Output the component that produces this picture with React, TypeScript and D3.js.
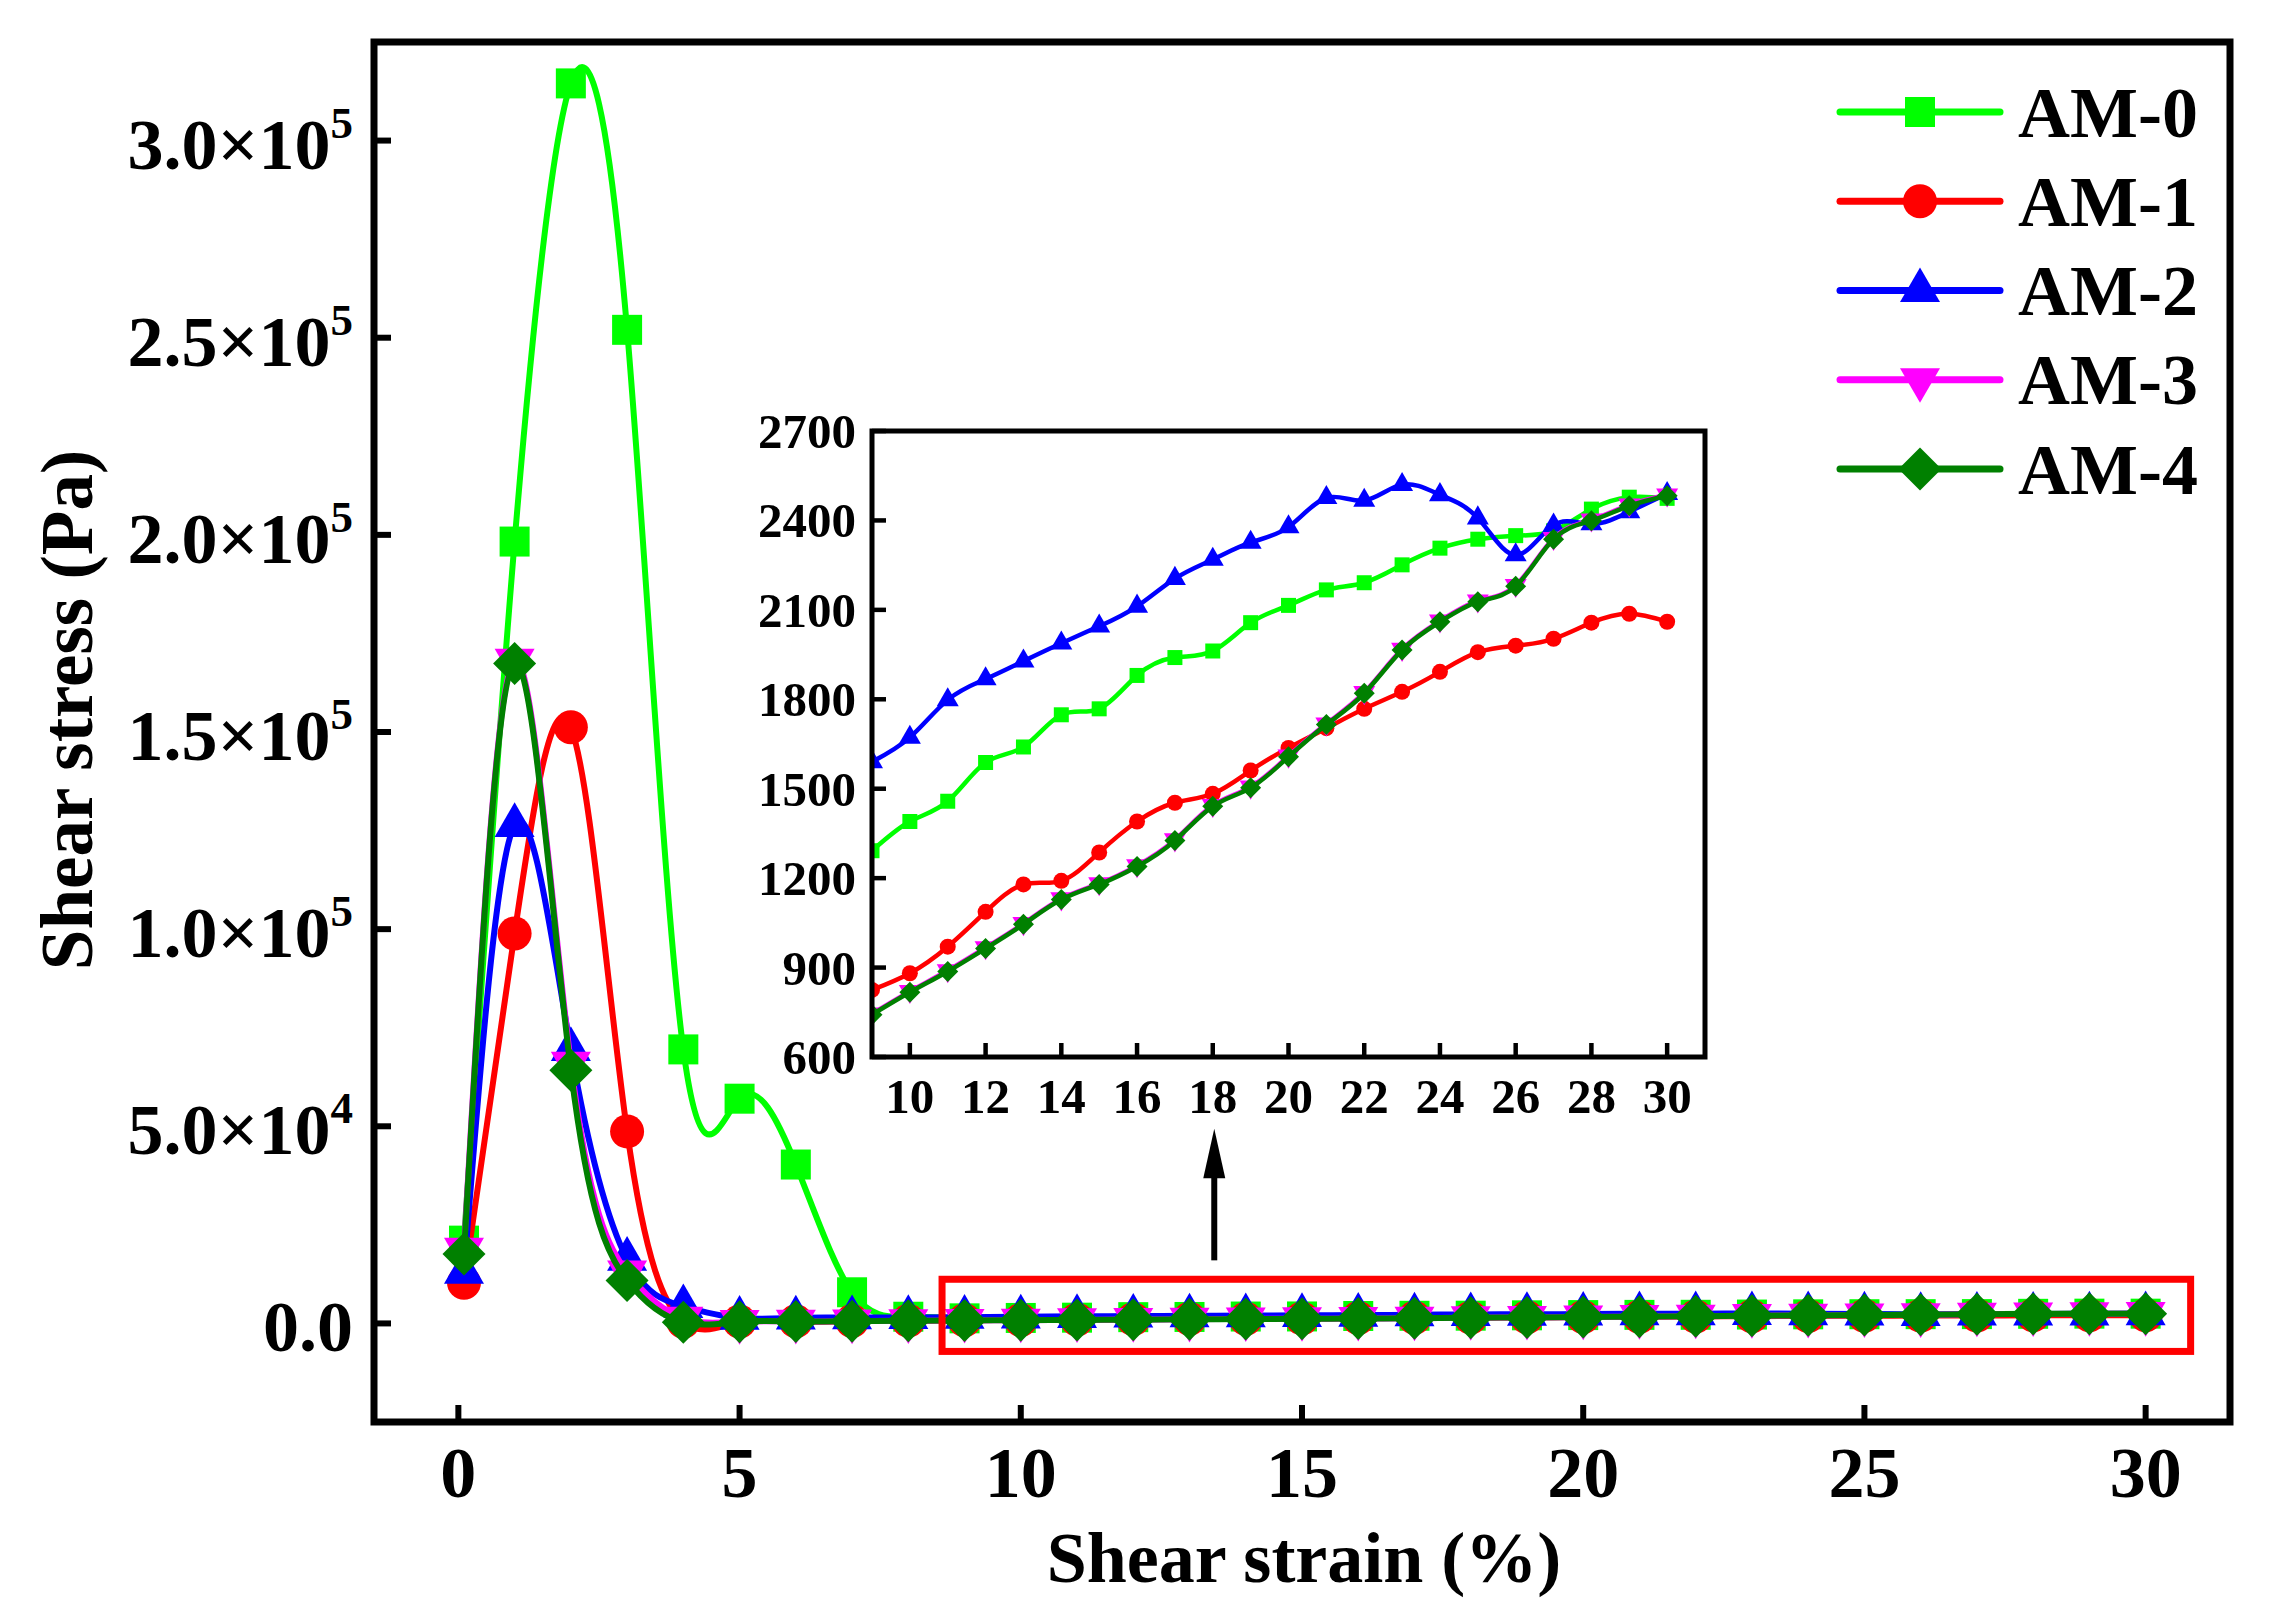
import * as d3 from "d3";

// shear strain (%) — first point is 0.1 %
const strain = [0.1, 1, 2, 3, 4, 5, 6, 7, 8, 9, 10, 11, 12, 13, 14, 15, 16, 17, 18, 19, 20, 21, 22, 23, 24, 25, 26, 27, 28, 29, 30];

// shear stress (Pa), one array per sample
const am0 = [21000, 198300, 314500, 252000, 69500, 57000, 40300, 7900, 1700, 1292, 1390, 1458, 1588, 1640, 1748, 1768, 1880, 1940, 1962, 2057, 2115, 2167, 2191, 2251, 2307, 2337, 2349, 2365, 2438, 2478, 2474];
const am1 = [10300, 98900, 151200, 48700, 400, 500, 550, 620, 700, 825, 881, 970, 1087, 1179, 1191, 1286, 1390, 1453, 1483, 1561, 1637, 1703, 1768, 1825, 1892, 1958, 1980, 2003, 2057, 2087, 2060];
const am2 = [13000, 126300, 69500, 16300, 4300, 1350, 1420, 1480, 1530, 1590, 1672, 1798, 1868, 1928, 1988, 2045, 2112, 2205, 2269, 2326, 2378, 2476, 2467, 2520, 2486, 2408, 2284, 2384, 2388, 2429, 2490];
const am3 = [18800, 168200, 66000, 13000, 1300, 450, 520, 580, 660, 745, 820, 890, 967, 1048, 1131, 1182, 1242, 1329, 1444, 1506, 1610, 1718, 1823, 1968, 2063, 2130, 2182, 2340, 2402, 2452, 2486];
const am4 = [17600, 167400, 64200, 10900, 300, 420, 500, 560, 650, 742, 817, 887, 964, 1045, 1128, 1179, 1239, 1326, 1441, 1503, 1607, 1715, 1820, 1965, 2060, 2127, 2179, 2337, 2399, 2449, 2483];

const seriesNames = ["AM-0", "AM-1", "AM-2", "AM-3", "AM-4"];
const seriesColors = ["#00ff00", "#ff0000", "#0000ff", "#ff00ff", "#008000"];
const seriesShapes = ["square", "circle", "triangle", "triangleDown", "diamond"];
const seriesValues = [am0, am1, am2, am3, am4];

// main axes ticks
const xTicks = [0, 5, 10, 15, 20, 25, 30];
const yTicks = [0, 50000, 100000, 150000, 200000, 250000, 300000];
const yTickMantissa = ["0.0", "5.0", "1.0", "1.5", "2.0", "2.5", "3.0"];
const yTickExp = ["", "4", "5", "5", "5", "5", "5"];

// inset ticks
const insetXTicks = [10, 12, 14, 16, 18, 20, 22, 24, 26, 28, 30];
const insetYTicks = [600, 900, 1200, 1500, 1800, 2100, 2400, 2700];

const W = 2269;
const H = 1621;
const FONT = "'Liberation Serif', 'Times New Roman', serif";

const mainSize: Record<string, number> = { square: 30, circle: 34, triangle: 40, triangleDown: 40, diamond: 43 };
const insetSize: Record<string, number> = { square: 15, circle: 16, triangle: 22, triangleDown: 22, diamond: 21 };

function markerPath(shape: string, s: number) {
  const r = s / 2;
  if (shape === "square") return `M${-r},${-r}h${s}v${s}h${-s}Z`;
  if (shape === "circle") return `M${-r},0a${r},${r} 0 1,0 ${s},0a${r},${r} 0 1,0 ${-s},0Z`;
  if (shape === "diamond") return `M0,${-r}L${r},0L0,${r}L${-r},0Z`;
  const h = s * 0.866;
  if (shape === "triangle") return `M0,${(-2 * h) / 3}L${r},${h / 3}L${-r},${h / 3}Z`;
  return `M0,${(2 * h) / 3}L${r},${-h / 3}L${-r},${-h / 3}Z`;
}

export default function App() {
  const x = d3.scaleLinear().domain([-1.5, 31.5]).range([374, 2230]);
  const y = d3.scaleLinear().domain([-25000, 325000]).range([1422, 42]);
  const xi = d3.scaleLinear().domain([9, 31]).range([872, 1705]);
  const yi = d3.scaleLinear().domain([600, 2700]).range([1057, 431]);

  const mainLine = d3.line<[number, number]>()
    .x(d => x(d[0]))
    .y(d => y(d[1]))
    .curve(d3.curveNatural);

  const insetLine = d3.line<[number, number]>()
    .x(d => xi(d[0]))
    .y(d => yi(d[1]))
    .curve(d3.curveNatural);

  const series = seriesNames.map((name, i) => ({
    name,
    color: seriesColors[i],
    shape: seriesShapes[i],
    pts: strain.map((s, j) => [s, seriesValues[i][j]] as [number, number]),
  }));

  const [x0, x1] = x.range();
  const [y0, y1] = y.range();
  const [ix0, ix1] = xi.range();
  const [iy0, iy1] = yi.range();

  // legend rows
  const legY = d3.scaleLinear().domain([0, 4]).range([112, 469]);

  return (
    <svg width={W} height={H} style={{ position: "absolute", left: 0, top: 0, background: "#fff" }}
      fontFamily={FONT} fontWeight="bold">
      <defs>
        <clipPath id="mainClip">
          <rect x={x0} y={y1} width={x1 - x0} height={y0 - y1} />
        </clipPath>
        <clipPath id="insetClip">
          <rect x={ix0} y={iy1} width={ix1 - ix0} height={iy0 - iy1} />
        </clipPath>
      </defs>
      <rect x={0} y={0} width={W} height={H} fill="#fff" />

      {/* main series */}
      <g clipPath="url(#mainClip)">
        {series.map(s => (
          <g key={s.name}>
            <path d={mainLine(s.pts) || ""} fill="none" stroke={s.color} strokeWidth={6} />
            {s.pts.map((p, j) => (
              <path key={j} d={markerPath(s.shape, mainSize[s.shape])}
                transform={`translate(${x(p[0])},${y(p[1])})`} fill={s.color} />
            ))}
          </g>
        ))}
      </g>

      {/* main frame and ticks */}
      <rect x={x0} y={y1} width={x1 - x0} height={y0 - y1} fill="none" stroke="#000" strokeWidth={7} />
      {xTicks.map(t => (
        <g key={t}>
          <line x1={x(t)} x2={x(t)} y1={y0} y2={y0 - 17} stroke="#000" strokeWidth={6} />
          <text x={x(t)} y={y0 + 75} fontSize={72} textAnchor="middle">{t}</text>
        </g>
      ))}
      {yTicks.map((t, i) => (
        <g key={t}>
          <line x1={x0} x2={x0 + 17} y1={y(t)} y2={y(t)} stroke="#000" strokeWidth={6} />
          <text x={x0 - 21} y={y(t) + 28} fontSize={72} textAnchor="end">
            {yTickMantissa[i]}
            {yTickExp[i] && <tspan>×10</tspan>}
            {yTickExp[i] && <tspan fontSize={45} dy={-31}>{yTickExp[i]}</tspan>}
          </text>
        </g>
      ))}
      <text x={1304} y={1582} fontSize={72} textAnchor="middle">Shear strain (%)</text>
      <text transform="translate(92,710) rotate(-90)" fontSize={73} textAnchor="middle">Shear stress (Pa)</text>

      {/* highlighted region and arrow */}
      <rect x={x(8.6)} y={y(11200)} width={x(30.8) - x(8.6)} height={y(-7100) - y(11200)}
        fill="none" stroke="#ff0000" strokeWidth={7} />
      <line x1={x(13.44)} x2={x(13.44)} y1={y(16000)} y2={y(45000)} stroke="#000" strokeWidth={6} />
      <path d={`M${x(13.44)},${y(49400)}L${x(13.44) + 11},${y(36800)}L${x(13.44) - 11},${y(36800)}Z`} fill="#000" />

      {/* inset */}
      <rect x={ix0} y={iy1} width={ix1 - ix0} height={iy0 - iy1} fill="#fff" />
      <g clipPath="url(#insetClip)">
        {series.map(s => {
          const pts = s.pts.filter(p => p[0] >= 9);
          return (
            <g key={s.name}>
              <path d={insetLine(pts) || ""} fill="none" stroke={s.color} strokeWidth={4.5} />
              {pts.map((p, j) => (
                <path key={j} d={markerPath(s.shape, insetSize[s.shape])}
                  transform={`translate(${xi(p[0])},${yi(p[1])})`} fill={s.color} />
              ))}
            </g>
          );
        })}
      </g>
      <rect x={ix0} y={iy1} width={ix1 - ix0} height={iy0 - iy1} fill="none" stroke="#000" strokeWidth={5} />
      {insetXTicks.map(t => (
        <g key={t}>
          <line x1={xi(t)} x2={xi(t)} y1={iy0} y2={iy0 - 14} stroke="#000" strokeWidth={4.5} />
          <text x={xi(t)} y={iy0 + 56} fontSize={49} textAnchor="middle">{t}</text>
        </g>
      ))}
      {insetYTicks.map(t => (
        <g key={t}>
          <line x1={ix0} x2={ix0 + 14} y1={yi(t)} y2={yi(t)} stroke="#000" strokeWidth={4.5} />
          <text x={ix0 - 16} y={yi(t) + 17} fontSize={49} textAnchor="end">{t}</text>
        </g>
      ))}

      {/* legend */}
      {series.map((s, i) => (
        <g key={s.name} transform={`translate(0,${legY(i)})`}>
          <line x1={1840} x2={2000} y1={0} y2={0} stroke={s.color} strokeWidth={7} strokeLinecap="round" />
          <path d={markerPath(s.shape, mainSize[s.shape])} transform="translate(1920,0)" fill={s.color} />
          <text x={2018} y={24.5} fontSize={72}>{s.name}</text>
        </g>
      ))}
    </svg>
  );
}
